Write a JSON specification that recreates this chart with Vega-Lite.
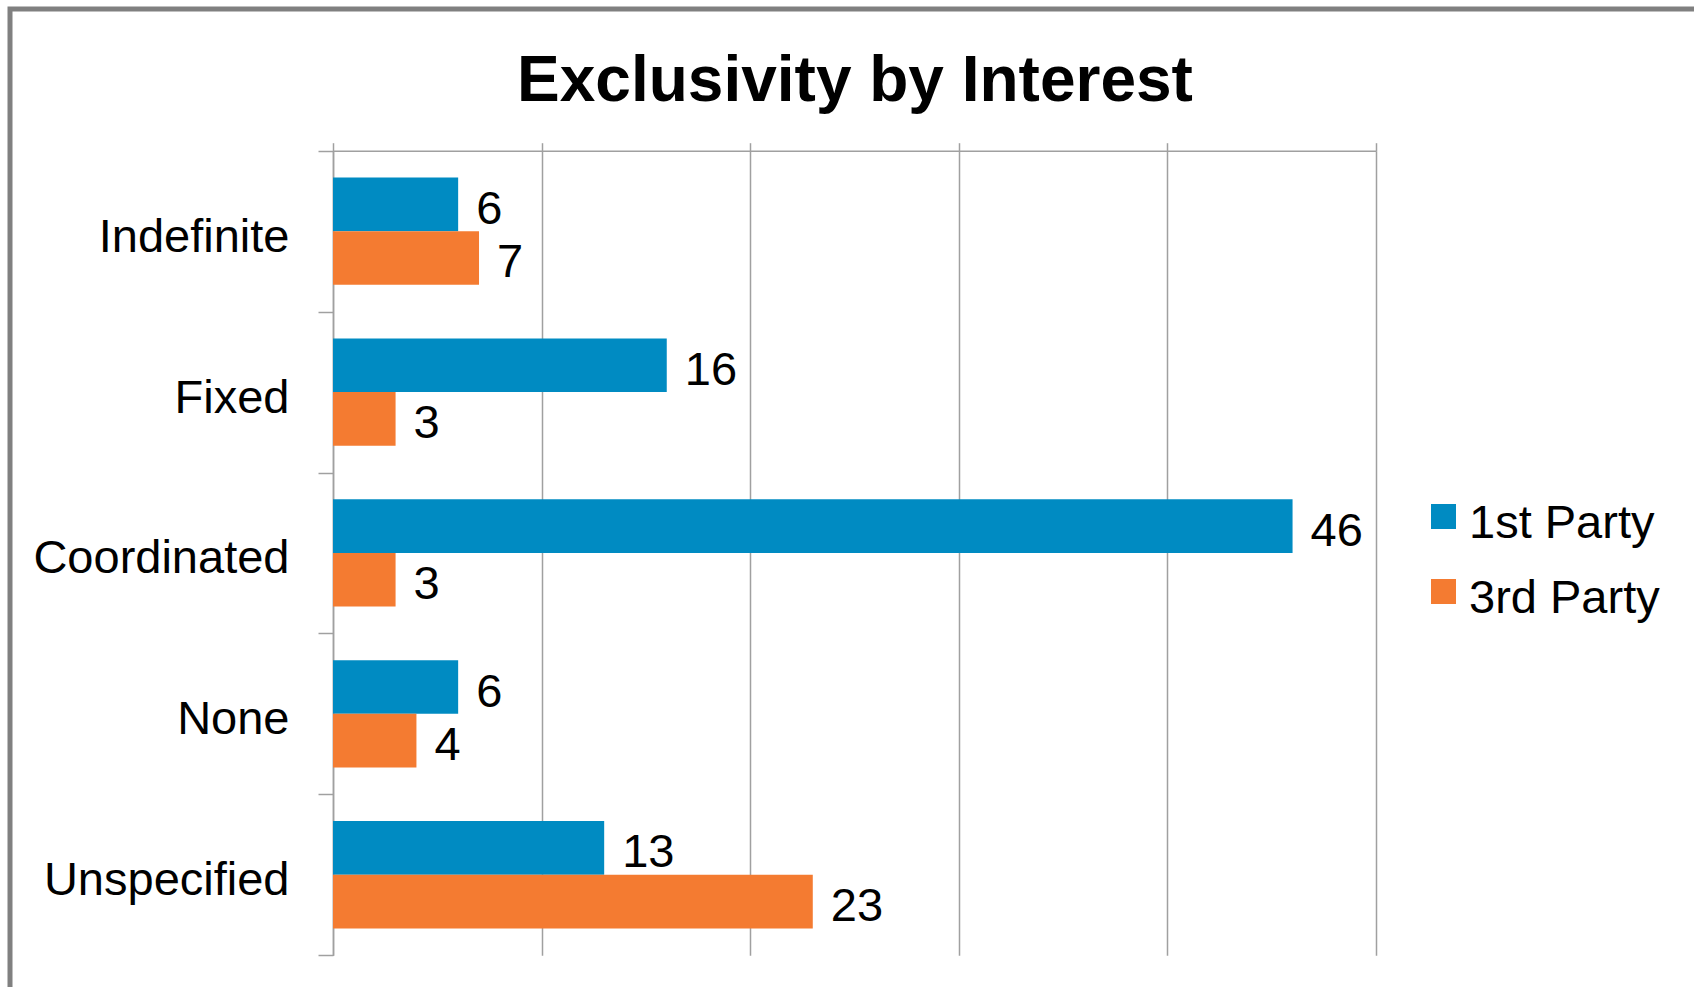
{
  "$schema": "https://vega.github.io/schema/vega-lite/v6.json",
  "width": 1700,
  "height": 1000,
  "autosize": {"type": "none"},
  "padding": {"left": 10, "top": 9, "right": 0, "bottom": 0},
  "background": "white",
  "title": {
    "text": "Exclusivity by Interest",
    "font": "Liberation Sans",
    "fontSize": 64,
    "fontWeight": "bold",
    "color": "black",
    "anchor": "middle",
    "frame": "group",
    "offset": -91,
    "baseline": "alphabetic",
    "dx": -5,
    "dy": 89
  },
  "data": {
    "values": [
      {"Interest": "Indefinite", "Party": "1st Party", "Count": 6},
      {"Interest": "Indefinite", "Party": "3rd Party", "Count": 7},
      {"Interest": "Fixed", "Party": "1st Party", "Count": 16},
      {"Interest": "Fixed", "Party": "3rd Party", "Count": 3},
      {"Interest": "Coordinated", "Party": "1st Party", "Count": 46},
      {"Interest": "Coordinated", "Party": "3rd Party", "Count": 3},
      {"Interest": "None", "Party": "1st Party", "Count": 6},
      {"Interest": "None", "Party": "3rd Party", "Count": 4},
      {"Interest": "Unspecified", "Party": "1st Party", "Count": 13},
      {"Interest": "Unspecified", "Party": "3rd Party", "Count": 23}
    ]
  },
  "encoding": {
    "y": {
      "field": "Interest",
      "type": "nominal",
      "title": null,
      "scale": {
        "domain": ["Indefinite", "Fixed", "Coordinated", "None", "Unspecified"],
        "range": [141.7, 946.2],
        "paddingInner": 0,
        "paddingOuter": 0
      },
      "axis": {
        "orient": "left",
        "offset": -323,
        "tickBand": "extent",
        "tickSize": 15,
        "tickColor": "#a0a0a0",
        "tickWidth": 1.5,
        "domainColor": "#a0a0a0",
        "domainWidth": 1.5,
        "labelFont": "Liberation Sans",
        "labelFontSize": 47,
        "labelColor": "black",
        "labelPadding": 29,
        "labelOffset": 6,
        "labelLimit": 0,
        "grid": false
      }
    },
    "x": {
      "field": "Count",
      "type": "quantitative",
      "title": null,
      "scale": {"domain": [0, 50], "range": [323, 1366], "nice": false, "zero": true},
      "axis": {
        "orient": "top",
        "offset": -141.7,
        "labels": false,
        "values": [0, 10, 20, 30, 40, 50],
        "tickSize": 8,
        "tickColor": "#a0a0a0",
        "tickWidth": 1.5,
        "domainColor": "#a0a0a0",
        "domainWidth": 1.5,
        "grid": true,
        "gridColor": "#a0a0a0",
        "gridWidth": 1.5
      }
    },
    "yOffset": {
      "field": "Party",
      "type": "nominal",
      "scale": {"domain": ["1st Party", "3rd Party"], "paddingInner": 0, "paddingOuter": 0.5}
    }
  },
  "layer": [
    {
      "mark": {"type": "bar"},
      "encoding": {
        "color": {
          "field": "Party",
          "type": "nominal",
          "scale": {"domain": ["1st Party", "3rd Party"], "range": ["#008BC2", "#F47B31"]},
          "legend": {
            "title": null,
            "orient": "none",
            "legendX": 1410,
            "legendY": 491,
            "symbolType": "M-1,-1.56H1V0.44H-1Z",
            "symbolSize": 625,
            "symbolStrokeWidth": 0,
            "labelFont": "Liberation Sans",
            "labelFontSize": 47,
            "labelColor": "black",
            "labelOffset": 2,
            "rowPadding": 27,
            "padding": 0,
            "labelLimit": 0
          }
        }
      }
    },
    {
      "mark": {
        "type": "text",
        "align": "left",
        "baseline": "middle",
        "dx": 18,
        "dy": 5.5,
        "font": "Liberation Sans",
        "fontSize": 47,
        "color": "black"
      },
      "encoding": {
        "text": {"field": "Count", "type": "quantitative"}
      }
    }
  ],
  "config": {
    "view": {"stroke": "#808080", "strokeWidth": 5}
  }
}
